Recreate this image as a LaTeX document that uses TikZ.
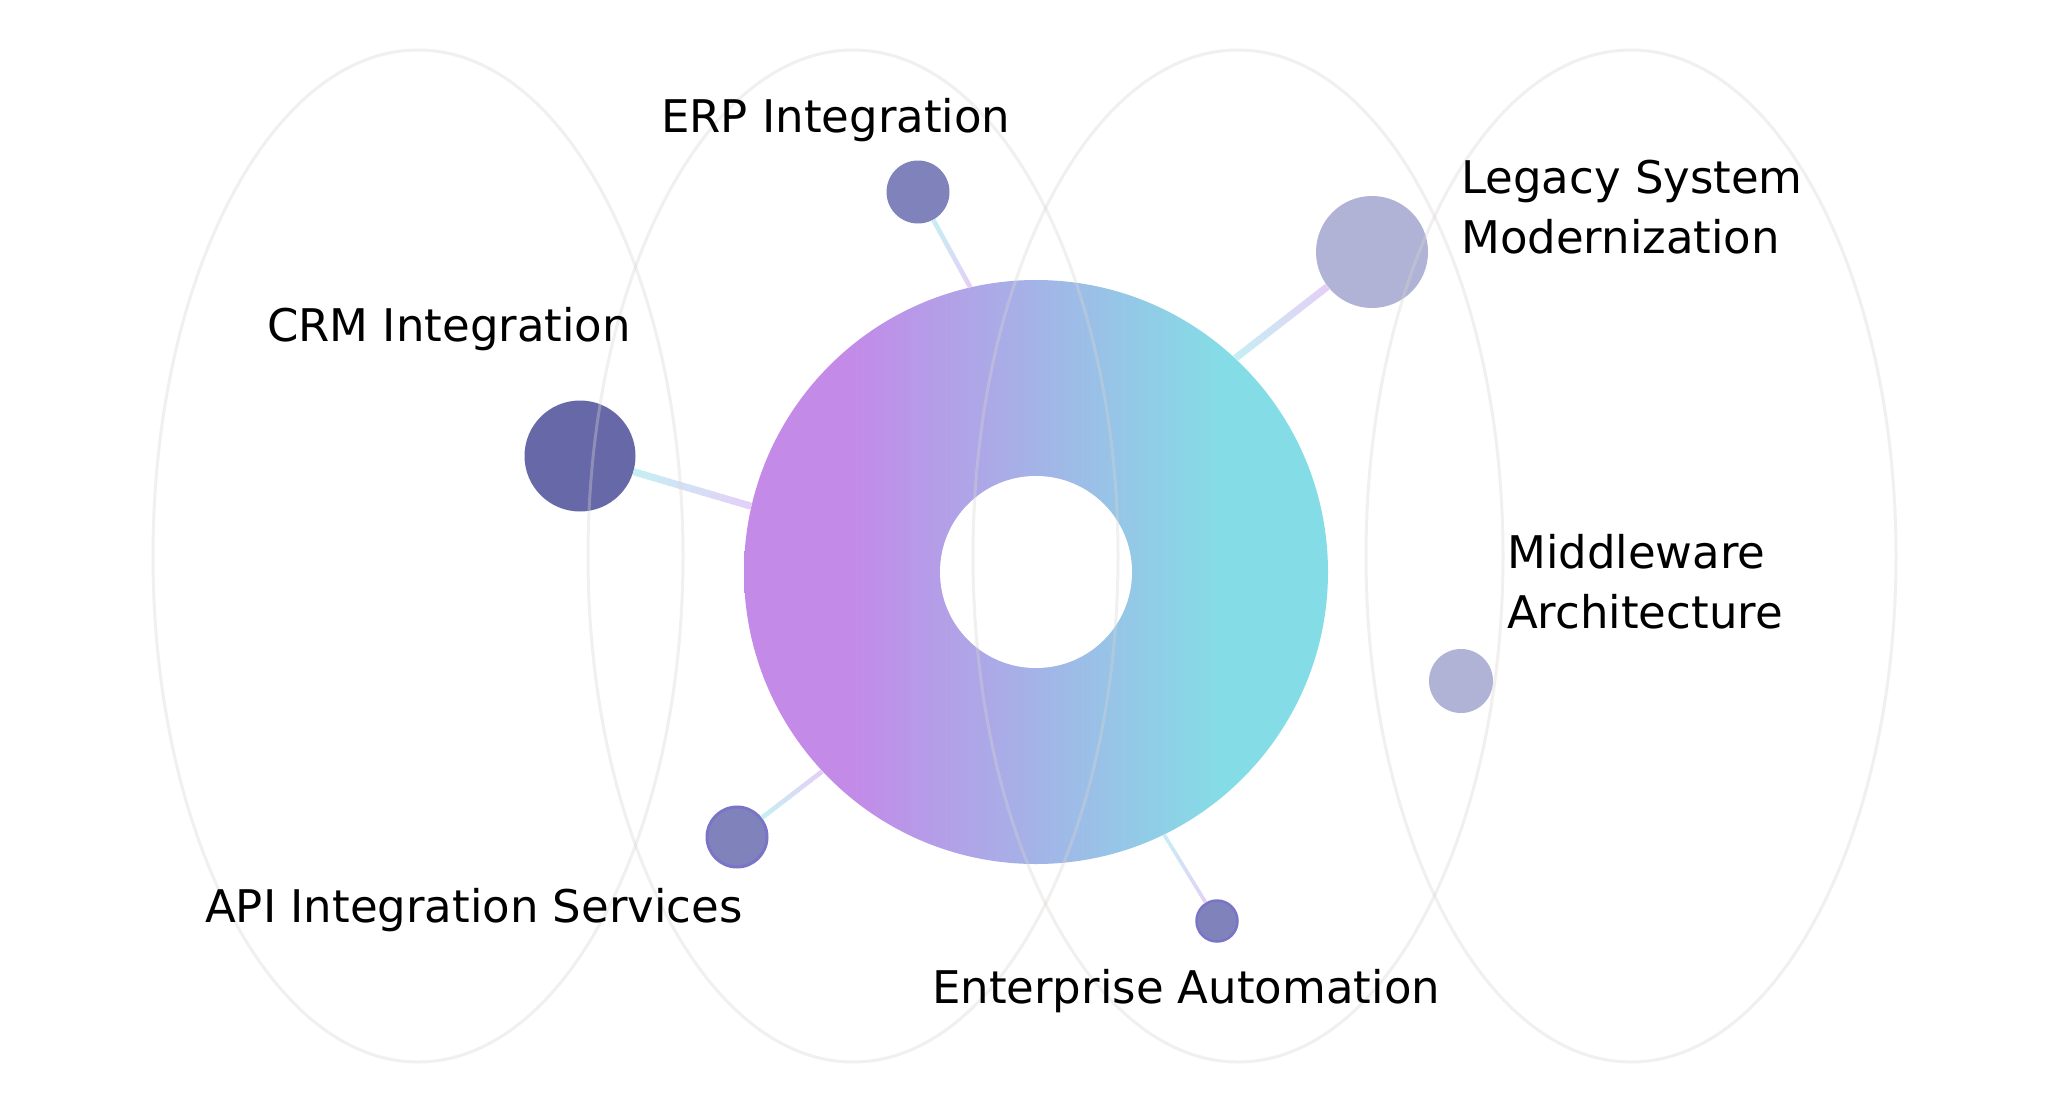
\documentclass[tikz,border=0pt]{standalone}
\usepackage{fontspec}
\setmainfont{DejaVu Sans}
\usepackage{tikz}
\usetikzlibrary{calc}

\definecolor{hubpurple}{HTML}{C38AE8}
\definecolor{hubcyan}{HTML}{84DDE6}
\definecolor{linkpurple}{HTML}{E4D0F6}
\definecolor{linkcyan}{HTML}{C6EEF4}
\definecolor{dotdark}{HTML}{6668A8}
\definecolor{dotmid}{HTML}{8083BB}
\definecolor{dotlight}{HTML}{B0B3D5}
\definecolor{dotrim}{HTML}{7A74C6}
\definecolor{ringgray}{HTML}{D9D5D2}

\pgfdeclarehorizontalshading{hubshade}{100bp}{color(0bp)=(hubpurple); color(34bp)=(hubpurple); color(66bp)=(hubcyan); color(100bp)=(hubcyan)}

\begin{document}
\begin{tikzpicture}[x=1pt, y=-1pt,
    dot/.style={circle, inner sep=0pt},
    ring/.style={draw=ringgray, draw opacity=0.35, line width=3pt},
    itemtext/.style={inner sep=0pt, anchor=base west, align=left, font=\fontsize{45}{60}\selectfont}]
      \fill[white] (0,0) rectangle (2056,1108);
      \useasboundingbox (0,0) rectangle (2056,1108);

      % Central ring with the hole punched in white
      \node[dot, shade, shading=hubshade, minimum size=584pt] (hub) at (1036,572) {};
      \node[dot, fill=white, minimum size=192pt] (hole) at (1036,572) {};

      % Satellite dots around the ring
      \node[dot, fill=dotmid, minimum size=63pt] (erp) at (918,192) {};
      \node[dot, fill=dotdark, minimum size=111pt] (crm) at (580,456) {};
      \node[dot, fill=dotlight, minimum size=112pt] (legacy) at (1372,252) {};
      \node[dot, fill=dotlight, minimum size=64pt] (middleware) at (1461,681) {};
      \node[dot, fill=dotmid, draw=dotrim, line width=3pt, minimum size=60pt] (api) at (737,837) {};
      \node[dot, fill=dotmid, draw=dotrim, line width=2.5pt, minimum size=41pt] (enterprise) at (1217,921) {};

      % Links, cyan on their left end fading to lilac on the right
      \foreach \a/\b/\w in {crm/hub.167/7, erp/hub.103/4.5, hub.47/legacy/7, api/hub.223/4.5, hub.296/enterprise/3.5}{
        \path (\a) -- (\b) coordinate[pos=0] (s) coordinate[pos=1] (t);
        \foreach \i in {0,...,23}{
          \pgfmathtruncatemacro\mix{100*\i/23}
          \pgfmathsetmacro\u{min((\i+1.4)/24,1)}
          \draw[line width=\w pt, draw=linkpurple!\mix!linkcyan] ($(s)!\i/24!(t)$) -- ($(s)!\u!(t)$);
        }
      }

      % Faint background ellipses
      \foreach \cx in {418,853,1238,1631}
        \draw[ring] (\cx,556) ellipse [x radius=265pt, y radius=506pt];

      % Labels
      \node[itemtext] (erp-text) at (661,132) {ERP Integration};
      \node[itemtext] (crm-text) at (267,341) {CRM Integration};
      \node[itemtext] (legacy-text) at (1461,253) {Legacy System\\Modernization};
      \node[itemtext] (middleware-text) at (1507,628) {Middleware\\Architecture};
      \node[itemtext] (api-text) at (205,922) {API Integration Services};
      \node[itemtext] (enterprise-text) at (932,1003) {Enterprise Automation};
    \end{tikzpicture}
\end{document}
